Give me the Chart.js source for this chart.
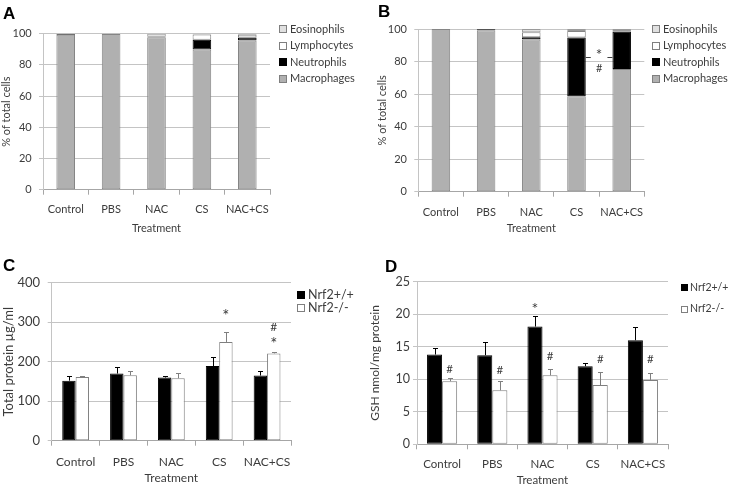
<!DOCTYPE html>
<html>
<head>
<meta charset="utf-8">
<script src="https://cdn.jsdelivr.net/npm/chart.js@4.4.1/dist/chart.umd.min.js"></script>
<style>
body { margin: 0; background: #fff; width: 730px; height: 485px; overflow: hidden; position: relative; }
.panel { position: absolute; }
.tag { position: absolute; font: bold 17px 'Liberation Sans', Arial, sans-serif; line-height: 17px; color: #000; }
</style>
</head>
<body>
<div class="panel" style="left:0;top:0;width:365px;height:240px"><canvas id="chartA"></canvas></div>
<div class="panel" style="left:365px;top:0;width:365px;height:240px"><canvas id="chartB"></canvas></div>
<div class="panel" style="left:0;top:230px;width:365px;height:255px"><canvas id="chartC"></canvas></div>
<div class="panel" style="left:365px;top:230px;width:365px;height:255px"><canvas id="chartD"></canvas></div>
<div class="tag" style="left:3px;top:5px">A</div>
<div class="tag" style="left:378px;top:3px">B</div>
<div class="tag" style="left:3px;top:257px">C</div>
<div class="tag" style="left:385px;top:258px">D</div>
<script>
const FONT = 'Lato, "Open Sans", sans-serif';
const TXT = '#3c3c3c';

const treatments = ['Control', 'PBS', 'NAC', 'CS', 'NAC+CS'];

// A - cell differentials (% of total cells)
const macroA  = [99.3, 99.8, 97.8, 89.8, 95.7];
const neutroA = [0.5, 0, 0.2, 6.4, 1.9];
const lymphoA = [0.1, 0.1, 0, 3.3, 1.8];
const eosinoA = [0.1, 0.1, 2.0, 0.5, 0.6];

// B - cell differentials (% of total cells)
const macroB  = [100, 99.3, 93.6, 58.6, 75.4];
const neutroB = [0, 0.5, 1.3, 36.1, 22.9];
const lymphoB = [0, 0.1, 3.1, 4.1, 0.5];
const eosinoB = [0, 0.1, 2.0, 1.2, 1.2];

// C - total protein ug/ml
const proteinWT    = [152, 170, 160, 189, 165];
const proteinWTErr = [11.5, 15.5, 5, 22, 10.5];
const proteinKO    = [161, 165.5, 158, 250, 221];
const proteinKOErr = [4, 10, 12.5, 25, 4.5];

// D - GSH nmol/mg protein
const gshWT    = [13.8, 13.7, 18.1, 12.0, 16.0];
const gshWTErr = [1.0, 2.0, 1.6, 0.5, 2.1];
const gshKO    = [9.7, 8.3, 10.6, 9.1, 9.9];
const gshKOErr = [0.45, 1.5, 1.0, 2.0, 1.0];

// significance marks: [text, category, dataset (null = between bars), y value]
const marksB = [['*', 3.5, null, 86], ['#', 3.5, null, 76]];
const marksC = [['*', 3, 1, 327], ['#', 4, 1, 287], ['*', 4, 1, 255]];
const marksD = [['*', 2, 0, 21.4], ['#', 0, 1, 11.6], ['#', 1, 1, 11.4], ['#', 2, 1, 13.5], ['#', 3, 1, 13.1], ['#', 4, 1, 13.1]];

// one-sided error bars drawn from the bar top
const errorBars = {
  id: 'errorBars',
  afterDatasetsDraw(chart, args, opts) {
    if (!opts.errors) return;
    const ctx = chart.ctx;
    const y = chart.scales.y;
    ctx.save();
    ctx.lineWidth = 1;
    opts.errors.forEach((errs, di) => {
      const vals = chart.data.datasets[di].data;
      ctx.strokeStyle = opts.colors[di];
      chart.getDatasetMeta(di).data.forEach((bar, i) => {
        const x = Math.round(bar.x) + 0.5;
        const base = y.getPixelForValue(vals[i]);
        const top = Math.round(y.getPixelForValue(vals[i] + errs[i])) + 0.5;
        ctx.beginPath();
        ctx.moveTo(x, base);
        ctx.lineTo(x, top);
        ctx.moveTo(x - opts.cap, top);
        ctx.lineTo(x + opts.cap, top);
        ctx.stroke();
      });
    });
    ctx.restore();
  }
};

const sigMarks = {
  id: 'sigMarks',
  afterDatasetsDraw(chart, args, opts) {
    if (!opts.items) return;
    const ctx = chart.ctx;
    const y = chart.scales.y;
    ctx.save();
    ctx.fillStyle = TXT;
    ctx.textAlign = 'center';
    ctx.textBaseline = 'alphabetic';
    opts.items.forEach(([text, idx, ds, val]) => {
      // the asterisk glyph is small in Lato, so give it a bigger size
      ctx.font = (text === '*' ? opts.size * 1.4 : opts.size) + 'px ' + FONT;
      const x = ds === null ? chart.scales.x.getPixelForValue(idx) : chart.getDatasetMeta(ds).data[idx].x;
      const m = ctx.measureText(text);
      const yy = y.getPixelForValue(val) + (m.actualBoundingBoxAscent - m.actualBoundingBoxDescent) / 2;
      ctx.fillText(text, x, yy);
    });
    (opts.dashes || []).forEach(([a, b, val]) => {
      const bars = chart.getDatasetMeta(0).data;
      const yy = Math.round(y.getPixelForValue(val)) + 0.5;
      const r = bars[a].x + bars[a].width / 2;
      const l = bars[b].x - bars[b].width / 2;
      ctx.strokeStyle = '#404040';
      ctx.lineWidth = 1;
      ctx.beginPath();
      ctx.moveTo(r, yy); ctx.lineTo(r + 5, yy);
      ctx.moveTo(l - 5, yy); ctx.lineTo(l, yy);
      ctx.stroke();
    });
    ctx.restore();
  }
};

// legend at the right, drawn at fixed rows
const sideLegend = {
  id: 'sideLegend',
  afterDraw(chart, args, opts) {
    const ctx = chart.ctx;
    ctx.save();
    ctx.font = opts.size + 'px ' + FONT;
    ctx.textBaseline = 'middle';
    opts.order.forEach((di, row) => {
      const ds = chart.data.datasets[di];
      const cy = opts.y + row * opts.gap;
      const b = opts.box;
      const top = Math.round(cy - b / 2);
      ctx.fillStyle = ds.backgroundColor;
      ctx.fillRect(opts.x, top, b, b);
      ctx.strokeStyle = ds.borderColor === '#000' ? '#000' : '#7f7f7f';
      ctx.lineWidth = 1;
      ctx.strokeRect(opts.x + 0.5, top + 0.5, b - 1, b - 1);
      ctx.fillStyle = TXT;
      ctx.fillText(ds.label, opts.x + b + (opts.textGap || 3), cy);
    });
    ctx.restore();
  }
};

function axes(o) {
  return {
    x: {
      stacked: o.stacked,
      grid: { drawOnChartArea: false, drawTicks: true, tickLength: 5, color: '#a6a6a6', offset: true },
      border: { color: '#a6a6a6' },
      ticks: { font: { family: FONT, size: o.xSize }, color: TXT, padding: o.xPad, maxRotation: 0, autoSkip: false },
      title: { display: true, text: 'Treatment', font: { family: FONT, size: o.tSize }, color: TXT, padding: { top: 0, bottom: o.tPad } },
      afterFit: s => { s.height = o.xH; }
    },
    y: {
      stacked: o.stacked,
      min: 0,
      max: o.max,
      grid: { color: '#c4c4c4', tickLength: 4, drawTicks: true },
      border: { color: '#c4c4c4' },
      ticks: { stepSize: o.step, font: { family: FONT, size: o.ySize }, color: TXT, padding: o.yPad },
      title: { display: true, text: o.yTitle, font: { family: FONT, size: o.yTitleSize }, color: TXT, padding: { top: o.yTitlePad, bottom: 0 } },
      afterFit: s => { s.width = o.yW; }
    }
  };
}

function stackedSets(macro, neutro, lympho, eosino) {
  const common = { borderWidth: 1, borderSkipped: false, categoryPercentage: 0.41, barPercentage: 1 };
  return [
    Object.assign({ label: 'Macrophages', data: macro, backgroundColor: '#b0b0b0', borderColor: '#858585' }, common),
    Object.assign({ label: 'Neutrophils', data: neutro, backgroundColor: '#000', borderColor: '#000' }, common),
    Object.assign({ label: 'Lymphocytes', data: lympho, backgroundColor: '#fff', borderColor: '#858585' }, common),
    Object.assign({ label: 'Eosinophils', data: eosino, backgroundColor: '#e0e0e0', borderColor: '#9a9a9a' }, common)
  ];
}

function pairSets(wt, ko, pct) {
  const common = { borderWidth: 1, borderSkipped: false, categoryPercentage: pct, barPercentage: 1 };
  return [
    Object.assign({ label: 'Nrf2+/+', data: wt, backgroundColor: '#000', borderColor: '#000' }, common),
    Object.assign({ label: 'Nrf2-/-', data: ko, backgroundColor: '#fff', borderColor: '#7f7f7f' }, common)
  ];
}

const basePlugins = { legend: { display: false }, tooltip: { enabled: false } };

// Panel A
new Chart(document.getElementById('chartA'), {
  type: 'bar',
  data: { labels: treatments, datasets: stackedSets(macroA, neutroA, lymphoA, eosinoA) },
  options: {
    responsive: true, maintainAspectRatio: false, animation: false,
    layout: { padding: { top: 33.7, right: 95, left: 0, bottom: 0 } },
    scales: axes({ stacked: true, max: 100, step: 20, xSize: 11, ySize: 11, tSize: 11, xPad: 7.7, yPad: 7.3, tPad: 5.4, xH: 50.3, yW: 43, yTitle: '% of total cells', yTitleSize: 11, yTitlePad: 0 }),
    plugins: Object.assign({ sideLegend: { x: 279, y: 29.3, gap: 16.4, box: 8, size: 11, order: [3, 2, 1, 0] } }, basePlugins)
  },
  plugins: [sideLegend]
});

// Panel B
new Chart(document.getElementById('chartB'), {
  type: 'bar',
  data: { labels: treatments, datasets: stackedSets(macroB, neutroB, lymphoB, eosinoB) },
  options: {
    responsive: true, maintainAspectRatio: false, animation: false,
    layout: { padding: { top: 29, right: 85.7, left: 0, bottom: 0 } },
    scales: axes({ stacked: true, max: 100, step: 20, xSize: 11, ySize: 11, tSize: 11, xPad: 8.7, yPad: 7.3, tPad: 5.4, xH: 48.3, yW: 53.3, yTitle: '% of total cells', yTitleSize: 11, yTitlePad: 11 }),
    plugins: Object.assign({
      sideLegend: { x: 287, y: 29.3, gap: 16.4, box: 8, size: 11, order: [3, 2, 1, 0] },
      sigMarks: { items: marksB, size: 11, dashes: [[3, 4, 82.8]] }
    }, basePlugins)
  },
  plugins: [sideLegend, sigMarks]
});

// Panel C
new Chart(document.getElementById('chartC'), {
  type: 'bar',
  data: { labels: treatments, datasets: pairSets(proteinWT, proteinKO, 0.56) },
  options: {
    responsive: true, maintainAspectRatio: false, animation: false,
    layout: { padding: { top: 52.7, right: 74, left: 0, bottom: 0 } },
    scales: axes({ stacked: false, max: 400, step: 100, xSize: 12, ySize: 13, tSize: 12, xPad: 9.1, yPad: 7.7, tPad: 0, xH: 44.3, yW: 51.7, yTitle: 'Total protein \u00b5g/ml', yTitleSize: 13, yTitlePad: 1 }),
    plugins: Object.assign({
      sideLegend: { x: 297, y: 65, gap: 12.7, box: 8, size: 12.5, order: [0, 1] },
      errorBars: { errors: [proteinWTErr, proteinKOErr], colors: ['#000', '#7f7f7f'], cap: 2.5 },
      sigMarks: { items: marksC, size: 12 }
    }, basePlugins)
  },
  plugins: [sideLegend, errorBars, sigMarks]
});

// Panel D
new Chart(document.getElementById('chartD'), {
  type: 'bar',
  data: { labels: treatments, datasets: pairSets(gshWT, gshKO, 0.6) },
  options: {
    responsive: true, maintainAspectRatio: false, animation: false,
    layout: { padding: { top: 51.7, right: 62, left: 0, bottom: 0 } },
    scales: axes({ stacked: false, max: 25, step: 5, xSize: 11.5, ySize: 12.5, tSize: 11.5, xPad: 7.8, yPad: 3, tPad: -2, xH: 40.7, yW: 52, yTitle: 'GSH nmol/mg protein', yTitleSize: 12, yTitlePad: 3 }),
    plugins: Object.assign({
      sideLegend: { x: 316, y: 57.7, gap: 21.3, box: 7, size: 10.5, textGap: 2, order: [0, 1] },
      errorBars: { errors: [gshWTErr, gshKOErr], colors: ['#000', '#7f7f7f'], cap: 2.5 },
      sigMarks: { items: marksD, size: 11.5 }
    }, basePlugins)
  },
  plugins: [sideLegend, errorBars, sigMarks]
});
</script>
</body>
</html>
